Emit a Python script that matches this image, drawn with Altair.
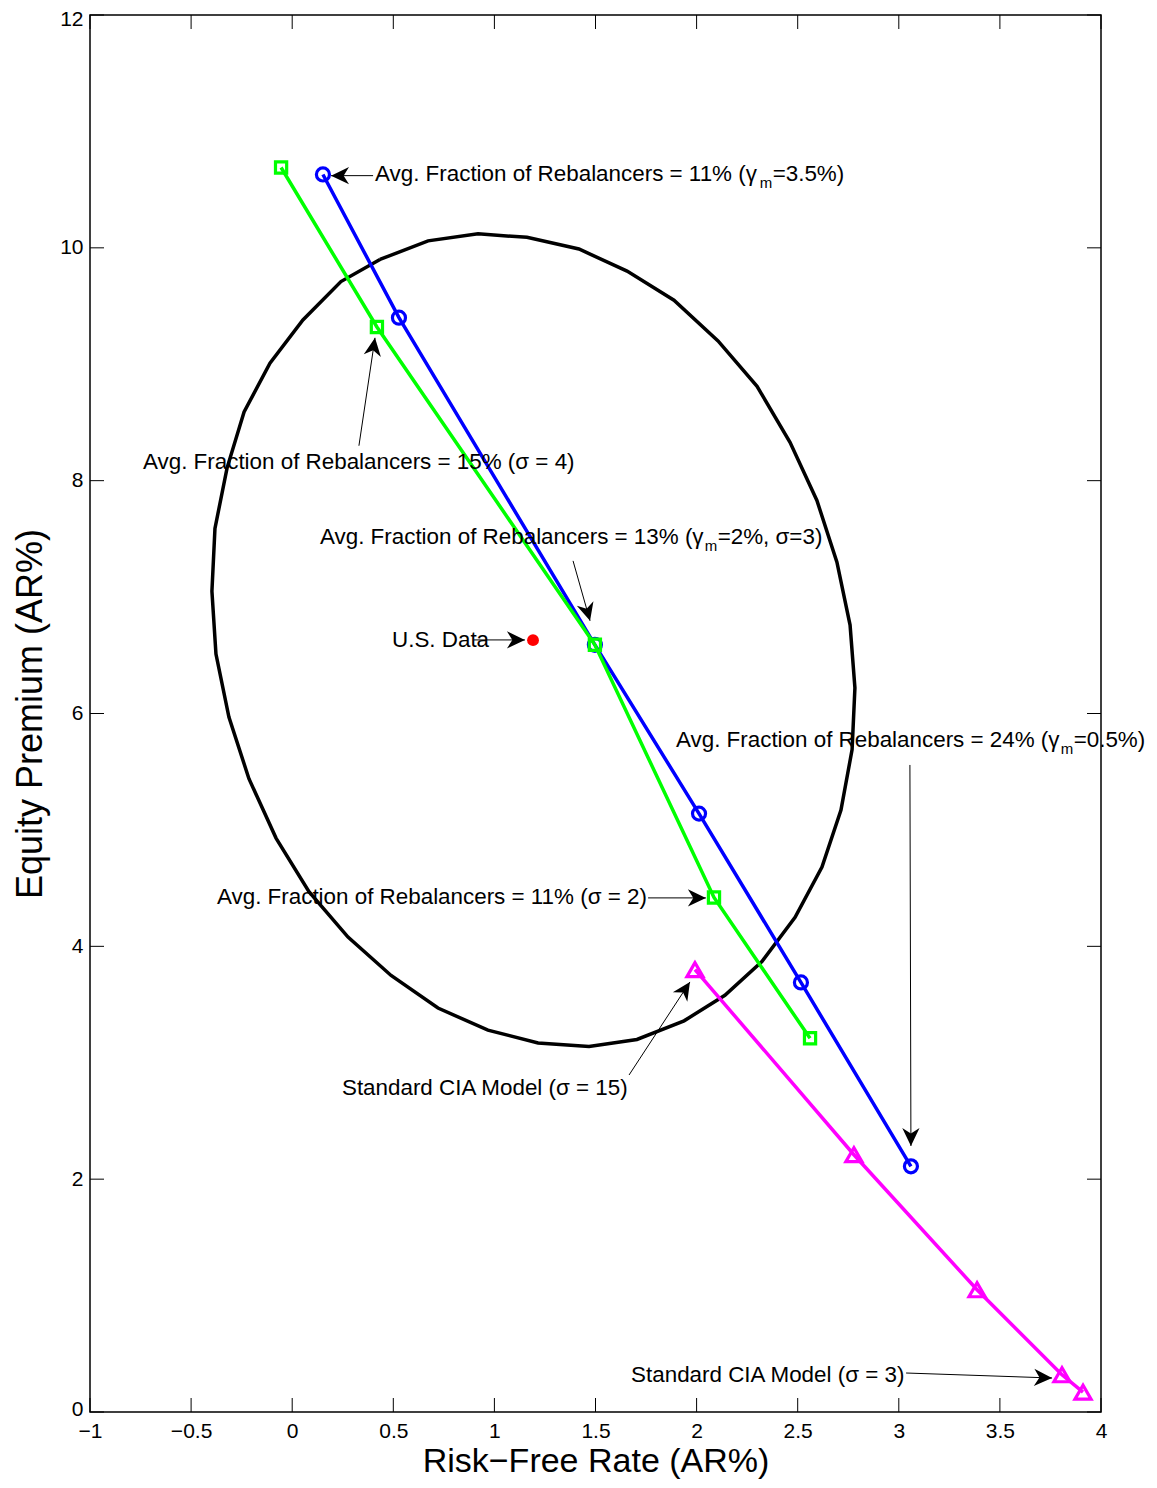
import math
import altair as alt
import pandas as pd

# ---------------- data ----------------
ellipse_x = [0.434, 0.241, 0.053, -0.110, -0.238, -0.322, -0.382, -0.397, -0.377, -0.313,
             -0.214, -0.080, 0.083, 0.276, 0.489, 0.721, 0.968, 1.216, 1.468, 1.705,
             1.938, 2.140, 2.323, 2.487, 2.620, 2.714, 2.769, 2.783, 2.759, 2.694,
             2.595, 2.462, 2.299, 2.106, 1.888, 1.656, 1.418, 1.161, 0.919, 0.672, 0.434]
ellipse_y = [9.90, 9.71, 9.38, 9.01, 8.59, 8.11, 7.59, 7.05, 6.51, 5.97,
             5.44, 4.93, 4.47, 4.08, 3.75, 3.47, 3.28, 3.17, 3.14, 3.20,
             3.36, 3.58, 3.87, 4.25, 4.68, 5.17, 5.69, 6.22, 6.76, 7.30,
             7.83, 8.33, 8.81, 9.20, 9.55, 9.80, 9.99, 10.09, 10.12, 10.06, 9.90]

blue_x = [0.152, 0.528, 1.497, 2.012, 2.516, 3.060]
blue_y = [10.63, 9.40, 6.59, 5.14, 3.69, 2.11]

green_x = [-0.055, 0.419, 1.497, 2.086, 2.561]
green_y = [10.69, 9.32, 6.59, 4.42, 3.21]

magenta_x = [1.992, 2.778, 3.387, 3.807, 3.911]
magenta_y = [3.80, 2.21, 1.05, 0.32, 0.17]

us_x = [1.191]
us_y = [6.63]

# plain annotations (left edge, vertical centre)
ann_text = ["Avg. Fraction of Rebalancers = 15% (σ = 4)",
            "U.S. Data",
            "Avg. Fraction of Rebalancers = 11% (σ = 2)",
            "Standard CIA Model (σ = 15)",
            "Standard CIA Model (σ = 3)"]
ann_x = [-0.738, 0.4936, -0.372, 0.246, 1.676]
ann_y = [8.16, 6.63, 4.42, 2.78, 0.318]

# annotations with a gamma_m subscript: prefix, subscript, suffix
gam_prefix = ["Avg. Fraction of Rebalancers = 11% (γ",
              "Avg. Fraction of Rebalancers = 13% (γ",
              "Avg. Fraction of Rebalancers = 24% (γ"]
gam_sub = ["m", "m", "m"]
gam_suffix = ["=3.5%)", "=2%, σ=3)", "=0.5%)"]
gam_x = [0.4095, 0.1375, 1.898]
gam_y = [10.63, 7.52, 5.77]

# arrows: tail -> tip
arr_tail_x = [0.400, 0.330, 1.389, 0.899, 3.055, 1.760, 1.666, 3.036]
arr_tail_y = [10.62, 8.30, 7.311, 6.632, 5.558, 4.416, 2.895, 0.335]
arr_tip_x = [0.192, 0.4095, 1.473, 1.151, 3.060, 2.046, 1.967, 3.758]
arr_tip_y = [10.62, 9.227, 6.796, 6.632, 2.285, 4.416, 3.694, 0.292]

x_ticks = [-1, -0.5, 0, 0.5, 1, 1.5, 2, 2.5, 3, 3.5, 4]
y_ticks = [0, 2, 4, 6, 8, 10, 12]

# ---------------- layout / style ----------------
W, H = 1011, 1397
XDOM, YDOM = [-1, 4], [0, 12]
FONT = "Liberation Sans"
TICK = 14
FS = 22.4
GAMMA_DX = 17.15 * FS  # width of the prefix text in Arial metrics

SX = alt.Scale(domain=XDOM, nice=False, zero=False)
SY = alt.Scale(domain=YDOM, nice=False, zero=False)
AX = alt.Axis(values=x_ticks, format="~g", ticks=False, domain=False, grid=False,
              labelPadding=8, labelFontSize=21, labelColor="black", labelFont=FONT,
              labelFlush=False,
              titleFontSize=34, titleFont=FONT, titleColor="black", titleFontWeight="normal",
              titlePadding=3)
AY = alt.Axis(values=y_ticks, format="~g", ticks=False, domain=False, grid=False,
              labelPadding=7, labelFontSize=21, labelColor="black", labelFont=FONT,
              labelFlush=True, labelFlushOffset=7,
              titleFontSize=36, titleFont=FONT, titleColor="black", titleFontWeight="normal",
              titlePadding=10)


def X(f):
    return alt.X(f, type="quantitative", scale=SX, axis=AX, title="Risk−Free Rate (AR%)")


def Y(f):
    return alt.Y(f, type="quantitative", scale=SY, axis=AY, title="Equity Premium (AR%)")


ell_df = pd.DataFrame({"x": ellipse_x, "y": ellipse_y, "o": range(len(ellipse_x))})
blue_df = pd.DataFrame({"x": blue_x, "y": blue_y, "o": range(len(blue_x))})
green_df = pd.DataFrame({"x": green_x, "y": green_y, "o": range(len(green_x))})
mag_df = pd.DataFrame({"x": magenta_x, "y": magenta_y, "o": range(len(magenta_x))})
us_df = pd.DataFrame({"x": us_x, "y": us_y})
ann_df = pd.DataFrame({"x": ann_x, "y": ann_y, "t": ann_text})
gam_df = pd.DataFrame({"x": gam_x, "y": gam_y, "p": gam_prefix, "s": gam_sub, "q": gam_suffix})

sx_px = W / (XDOM[1] - XDOM[0])
sy_px = H / (YDOM[1] - YDOM[0])
angles = []
for tx, ty, hx, hy in zip(arr_tail_x, arr_tail_y, arr_tip_x, arr_tip_y):
    dxp = (hx - tx) * sx_px
    dyp = -(hy - ty) * sy_px
    angles.append(math.degrees(math.atan2(dxp, -dyp)) % 360)
arr_df = pd.DataFrame({"x": arr_tail_x, "y": arr_tail_y, "x2": arr_tip_x, "y2": arr_tip_y,
                       "ang": angles})

xt_df = pd.DataFrame({"v": x_ticks})
yt_df = pd.DataFrame({"v": y_ticks})

LW = 3.5
ellipse = alt.Chart(ell_df).mark_line(color="black", strokeWidth=LW).encode(
    x=X("x"), y=Y("y"), order="o:Q")


def series(df, color, shape, size):
    line = alt.Chart(df).mark_line(color=color, strokeWidth=LW).encode(
        x=X("x"), y=Y("y"), order="o:Q")
    pts = alt.Chart(df).mark_point(color=color, shape=shape, size=size, filled=False,
                                   strokeWidth=3.2, opacity=1).encode(x=X("x"), y=Y("y"))
    return line, pts


bl, bp = series(blue_df, "#0000ff", "circle", 170)
gl, gp = series(green_df, "#00ff00", "square", 125)
ml, mp = series(mag_df, "#ff00ff", "triangle-up", 260)

us = alt.Chart(us_df).mark_point(color="#ff0000", filled=True, size=140, opacity=1).encode(
    x=X("x"), y=Y("y"))

arr_lines = alt.Chart(arr_df).mark_rule(color="black", strokeWidth=1).encode(
    x=X("x"), y=Y("y"), x2="x2", y2="y2")
arr_heads = alt.Chart(arr_df).mark_point(
    shape="M0,0 L0.48,1 L0,0.7 L-0.48,1 Z", filled=True, color="black",
    size=1296, opacity=1, strokeWidth=0).encode(
    x=X("x2"), y=Y("y2"), angle=alt.Angle("ang:Q", scale=None))

txt_kw = dict(align="left", baseline="middle", font=FONT, fontSize=FS, color="black")
ann = alt.Chart(ann_df).mark_text(**txt_kw).encode(x=X("x"), y=Y("y"), text="t:N")
gp1 = alt.Chart(gam_df).mark_text(**txt_kw).encode(x=X("x"), y=Y("y"), text="p:N")
gp2 = alt.Chart(gam_df).mark_text(align="left", baseline="middle", font=FONT, fontSize=15,
                                  color="black", dx=GAMMA_DX + 0.5, dy=9).encode(
    x=X("x"), y=Y("y"), text="s:N")
gp3 = alt.Chart(gam_df).mark_text(**txt_kw, dx=GAMMA_DX + 13.5).encode(
    x=X("x"), y=Y("y"), text="q:N")

tick_kw = dict(color="black", strokeWidth=1)
t_bottom = alt.Chart(xt_df).mark_rule(**tick_kw).encode(
    x=X("v"), y=alt.value(H), y2=alt.value(H - TICK))
t_top = alt.Chart(xt_df).mark_rule(**tick_kw).encode(
    x=X("v"), y=alt.value(0), y2=alt.value(TICK))
t_left = alt.Chart(yt_df).mark_rule(**tick_kw).encode(
    y=Y("v"), x=alt.value(0), x2=alt.value(TICK))
t_right = alt.Chart(yt_df).mark_rule(**tick_kw).encode(
    y=Y("v"), x=alt.value(W), x2=alt.value(W - TICK))

chart = alt.layer(
    t_bottom, t_top, t_left, t_right,
    ellipse, bl, bp, gl, gp, ml, mp, us,
    arr_lines, arr_heads, ann, gp1, gp2, gp3,
).properties(
    width=W, height=H,
    autosize=alt.AutoSizeParams(type="none"),
    padding={"left": 82, "top": 7, "right": 48, "bottom": 67},
    background="white",
).configure_view(stroke="black", strokeWidth=1.5)

chart.save("out.html", embed_options={"renderer": "svg", "actions": False})
